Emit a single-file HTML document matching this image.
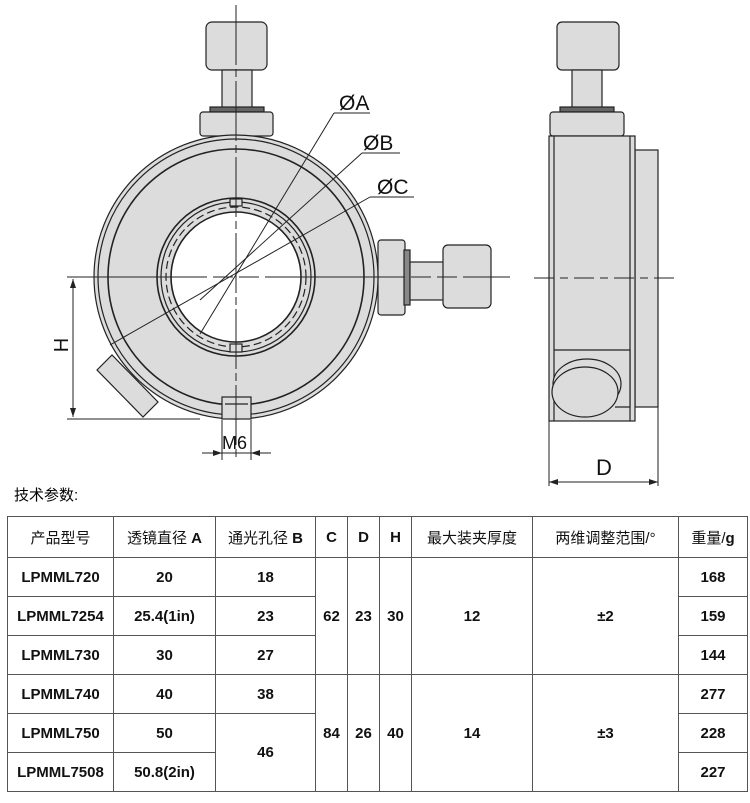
<!DOCTYPE html>
<html><head><meta charset="utf-8"><style>
body{margin:0;background:#fff;width:750px;height:803px;overflow:hidden;font-family:"Liberation Sans","Noto Sans CJK SC",sans-serif}
svg{position:absolute;left:0;top:0}
table{position:absolute;left:7px;top:516px;border-collapse:collapse;width:740px;table-layout:fixed}
td{border:1.5px solid #555;text-align:center;font-size:15px;height:38px;padding:0;font-weight:bold;color:#111;font-family:"Liberation Sans Narrow","Liberation Sans","Noto Sans CJK SC",sans-serif}
tr.h td{font-weight:normal;height:40px;font-family:"Liberation Sans","Noto Sans CJK SC",sans-serif;font-size:15px}
.t{position:absolute;left:14px;top:484px;font-size:15px;font-family:"Liberation Sans","Noto Sans CJK SC",sans-serif}
</style></head><body>
<svg width="750" height="803" viewBox="0 0 750 803" fill="#dcdcdd" stroke="#222" stroke-width="1.2">
<!-- front view -->
<rect x="206" y="22" width="61" height="48" rx="6"/>
<rect x="222" y="70" width="30" height="38"/>
<rect x="210" y="107" width="54" height="5" fill="#666"/>
<rect x="200" y="112" width="73" height="24" rx="3"/>
<rect x="378" y="240" width="27" height="75" rx="3"/>
<rect x="404" y="250" width="6" height="55" fill="#888"/>
<rect x="410" y="262" width="35" height="38"/>
<rect x="443" y="245" width="48" height="63" rx="5"/>
<circle cx="236" cy="277" r="142"/>
<circle cx="236" cy="277" r="138" fill="none"/>
<circle cx="236" cy="277" r="128" fill="none" stroke-width="1.6"/>
<polygon points="97,370 112,355 158,402 143,417"/>
<circle cx="236" cy="277" r="79" fill="none" stroke-width="1.6"/>
<circle cx="236" cy="277" r="75" fill="none"/>
<circle cx="236" cy="277" r="70" fill="none" stroke-dasharray="8 4"/>
<circle cx="236" cy="277" r="65" fill="#fff" stroke-width="1.6"/>
<rect x="230" y="199" width="12" height="7"/>
<rect x="230" y="344" width="12" height="8"/>
<rect x="222" y="397" width="29" height="22"/>
<line x1="225" y1="404" x2="248" y2="404"/>
<g fill="none" stroke-width="1">
<line x1="236" y1="5" x2="236" y2="460" stroke-dasharray="60 4 8 4"/>
<line x1="67" y1="277" x2="510" y2="277" stroke-dasharray="140 6 20 6 20 6"/>
<line x1="200" y1="334" x2="334" y2="113"/><line x1="334" y1="113" x2="370" y2="113"/>
<line x1="200" y1="300" x2="362" y2="153"/><line x1="362" y1="153" x2="400" y2="153"/>
<line x1="110" y1="345" x2="370" y2="197"/><line x1="370" y1="197" x2="414" y2="197"/>
<line x1="67" y1="419" x2="200" y2="419"/>
<line x1="73" y1="279" x2="73" y2="417"/>
<line x1="222" y1="420" x2="222" y2="460"/><line x1="251" y1="420" x2="251" y2="460"/>
<line x1="202" y1="453" x2="271" y2="453"/>
</g>
<g fill="#222" stroke="none">
<polygon points="73,279 70,288 76,288"/><polygon points="73,417 70,408 76,408"/>
<polygon points="222,453 213,450 213,456"/><polygon points="251,453 260,450 260,456"/>
</g>
<g fill="#111" stroke="none" font-size="21" font-family="Liberation Sans,sans-serif">
<text x="339" y="110">ØA</text><text x="363" y="150">ØB</text><text x="377" y="194">ØC</text>
<text x="222" y="449" font-size="18">M6</text>
<text transform="translate(68,345) rotate(-90)" font-size="20" text-anchor="middle">H</text>
</g>
<!-- side view -->
<rect x="557" y="22" width="62" height="48" rx="5"/>
<rect x="572" y="70" width="30" height="38"/>
<rect x="560" y="107" width="54" height="5" fill="#666"/>
<rect x="550" y="112" width="74" height="24" rx="3"/>
<rect x="635" y="150" width="23" height="257"/>
<rect x="549" y="136" width="86" height="285"/>
<line x1="554" y1="136" x2="554" y2="421"/><line x1="630" y1="136" x2="630" y2="421"/>
<path d="M554 350 H630 V407 H615"/>
<ellipse cx="587" cy="384" rx="34" ry="25"/>
<ellipse cx="585" cy="392" rx="33" ry="25"/>
<g fill="none" stroke-width="1">
<line x1="534" y1="278" x2="675" y2="278" stroke-dasharray="20 6 8 6"/>
<line x1="549" y1="421" x2="549" y2="486"/><line x1="658" y1="407" x2="658" y2="486"/>
<line x1="549" y1="482" x2="658" y2="482"/>
</g>
<g fill="#222" stroke="none"><polygon points="549,482 558,479 558,485"/><polygon points="658,482 649,479 649,485"/></g>
<text x="596" y="475" font-size="22" fill="#111" stroke="none" font-family="Liberation Sans,sans-serif">D</text>
</svg>
<div class="t">技术参数:</div>
<table>
<colgroup><col style="width:106px"><col style="width:102px"><col style="width:100px"><col style="width:32px"><col style="width:32px"><col style="width:32px"><col style="width:121px"><col style="width:146px"><col style="width:69px"></colgroup>
<tr class="h"><td>产品型号</td><td>透镜直径 <b>A</b></td><td>通光孔径 <b>B</b></td><td><b>C</b></td><td><b>D</b></td><td><b>H</b></td><td>最大装夹厚度</td><td>两维调整范围/°</td><td>重量/<b>g</b></td></tr>
<tr><td>LPMML720</td><td>20</td><td>18</td><td rowspan="3">62</td><td rowspan="3">23</td><td rowspan="3">30</td><td rowspan="3">12</td><td rowspan="3">±2</td><td>168</td></tr>
<tr><td>LPMML7254</td><td>25.4(1in)</td><td>23</td><td>159</td></tr>
<tr><td>LPMML730</td><td>30</td><td>27</td><td>144</td></tr>
<tr><td>LPMML740</td><td>40</td><td>38</td><td rowspan="3">84</td><td rowspan="3">26</td><td rowspan="3">40</td><td rowspan="3">14</td><td rowspan="3">±3</td><td>277</td></tr>
<tr><td>LPMML750</td><td>50</td><td rowspan="2">46</td><td>228</td></tr>
<tr><td>LPMML7508</td><td>50.8(2in)</td><td>227</td></tr>
</table>
</body></html>
